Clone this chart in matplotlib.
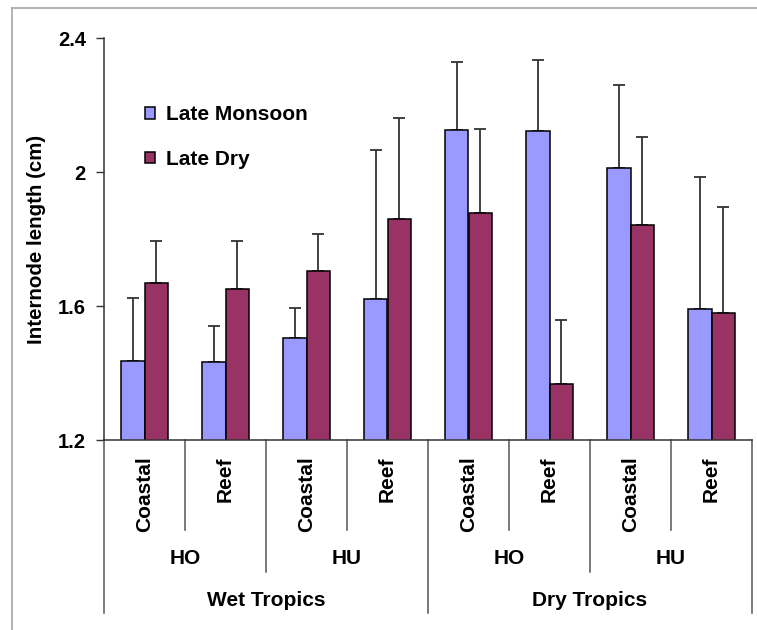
import matplotlib
matplotlib.use("Agg")
import matplotlib.pyplot as plt
from matplotlib.lines import Line2D
import numpy as np

plt.rcParams['font.family'] = ['Liberation Sans', 'DejaVu Sans']
plt.rcParams['font.weight'] = 'bold'

# internode length, mean and upper error, per site
sites = ["Coastal", "Reef", "Coastal", "Reef", "Coastal", "Reef", "Coastal", "Reef"]
islands = ["HO", "HU", "HO", "HU"]
regions = ["Wet Tropics", "Dry Tropics"]
late_monsoon = [1.436, 1.432, 1.504, 1.622, 2.124, 2.121, 2.011, 1.592]
late_monsoon_err = [0.189, 0.107, 0.089, 0.444, 0.203, 0.212, 0.249, 0.394]
late_dry = [1.668, 1.652, 1.704, 1.860, 1.877, 1.367, 1.841, 1.580]
late_dry_err = [0.126, 0.142, 0.111, 0.300, 0.250, 0.190, 0.264, 0.316]

W, H = 757, 630
fig = plt.figure(figsize=(W / 100, H / 100), dpi=100)
ax = fig.add_axes([104 / W, 1 - 440 / H, 648 / W, 402 / H])

x = np.arange(len(sites))
bw = 0.288
ax.bar(x - bw / 2, late_monsoon, bw, color="#9999ff",
       edgecolor="black", linewidth=1.1, label="Late Monsoon", zorder=2)
ax.bar(x + bw / 2, late_dry, bw, color="#993366",
       edgecolor="black", linewidth=1.1, label="Late Dry", zorder=2)
ekw = dict(fmt="none", ecolor="#333333", elinewidth=1.3, capsize=4.5,
           capthick=1.3, zorder=1)
ax.errorbar(x - bw / 2, late_monsoon,
            yerr=[np.zeros(len(sites)), late_monsoon_err], **ekw)
ax.errorbar(x + bw / 2, late_dry,
            yerr=[np.zeros(len(sites)), late_dry_err], **ekw)

ax.set_xlim(-0.5, len(sites) - 0.5)
ax.set_ylim(1.2, 2.4)
ax.set_yticks([1.2, 1.6, 2.0, 2.4])
ax.set_yticklabels(["1.2", "1.6", "2", "2.4"], fontsize=14.5, fontweight="bold")
ax.tick_params(axis="y", direction="out", length=6, width=1, color="#333333", pad=7)
ax.set_xticks([])
for s in ["top", "right"]:
    ax.spines[s].set_visible(False)
for s in ["left", "bottom"]:
    ax.spines[s].set_color("#333333")
    ax.spines[s].set_linewidth(1.1)

# multi-level category axis
tr = ax.get_xaxis_transform()
px = 1 / 402
for i, s in enumerate(sites):
    ax.text(i, -16 * px, s, transform=tr, rotation=90, ha="center", va="top",
            fontsize=15, fontweight="bold")
for b in np.arange(len(sites) + 1) - 0.5:
    k = int(b + 0.5)
    if k % 4 == 0:
        depth = 173
    elif k % 2 == 0:
        depth = 132
    else:
        depth = 90
    ax.add_line(Line2D([b, b], [0, -depth * px], transform=tr, color="#555555",
                       lw=1.1, clip_on=False))
for j, isl in enumerate(islands):
    ax.text(2 * j + 0.5, -119 * px, isl, transform=tr, ha="center", va="center",
            fontsize=15, fontweight="bold")
for j, reg in enumerate(regions):
    ax.text(4 * j + 1.5, -160 * px, reg, transform=tr, ha="center", va="center",
            fontsize=15, fontweight="bold")

fig.text(37 / W, 1 - 239 / H, "Internode length (cm)", rotation=90,
         ha="center", va="center", fontsize=14.8, fontweight="bold")

ax.legend(loc="upper left", bbox_to_anchor=(145 / W, 1 - 105 / H),
          bbox_transform=fig.transFigure, frameon=False, borderpad=0,
          borderaxespad=0, handlelength=0.5, handleheight=0.5,
          handletextpad=0.5, labelspacing=1.24,
          prop=dict(size=15, weight="bold"))

# chart area border
fig.add_artist(Line2D([12 / W, 12 / W], [0, 1 - 8 / H], transform=fig.transFigure,
                      color="#a6a6a6", lw=1.2))
fig.add_artist(Line2D([12 / W, 1], [1 - 8 / H, 1 - 8 / H], transform=fig.transFigure,
                      color="#a6a6a6", lw=1.2))

fig.savefig("out.png", dpi=100, facecolor="white")
